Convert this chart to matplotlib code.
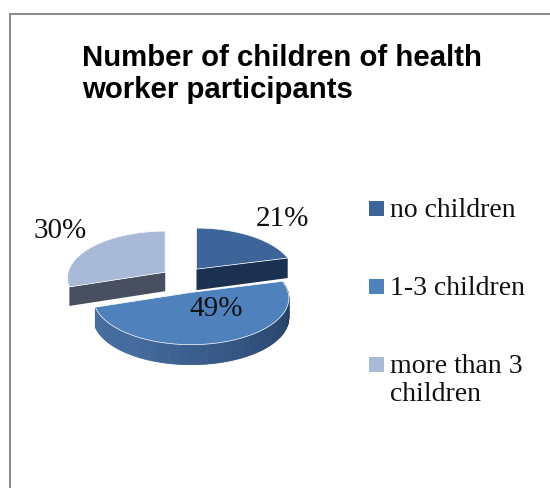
import numpy as np
import matplotlib
matplotlib.use('AGG')
import matplotlib.pyplot as plt

labels = ['no children', '1-3 children', 'more than 3\nchildren']
values = [21, 49, 30]
pct_labels = ['21%', '49%', '30%']
title = 'Number of children of health\nworker participants'

top_colors = ['#3d659a', '#4f81bd', '#a9b9d8']
cut_colors = ['#1b3152', '#24426c', '#474f60']
rim_light = np.array([0.27, 0.42, 0.62])
rim_dark = np.array([0.11, 0.21, 0.35])

# pie geometry in pixels
cx, cy = 183, 282
rx, ry = 97, 46
persp = 0.12
explode_x, explode_y = 22, 15
nudge_x = [0, 2, 0]
nudge_y = [0, -3, 0]
depth = 20
serif = 'Liberation Serif'


def project(ang):
    # angle is clockwise from 12 o'clock
    xx = np.sin(ang)
    yy = np.cos(ang)
    k = 1 + persp * yy
    return xx * rx / k, -yy * ry / k


fig = plt.figure(figsize=(5.5, 4.89), dpi=100)
ax = fig.add_axes([0, 0, 1, 1])
ax.set_xlim(0, 550)
ax.set_ylim(489, 0)
ax.axis('off')

# frame of the chart, runs off the picture on the right and at the bottom
ax.plot([10, 10], [489, 15], color='#8c8c8c', lw=1.5, solid_capstyle='butt')
ax.plot([9, 550], [15, 15], color='#8c8c8c', lw=1.5, solid_capstyle='butt')

ax.text(82, 74, title, fontsize=21.2, fontweight='bold', family='Liberation Sans',
        va='center', ha='left', linespacing=1.17, color='black')

edges = np.cumsum([0] + values) / sum(values) * 2 * np.pi
slices = []
for i in range(len(values)):
    a0, a1 = edges[i], edges[i + 1]
    mid = (a0 + a1) / 2
    ox = cx + explode_x * np.sin(mid) + nudge_x[i]
    oy = cy - explode_y * np.cos(mid) + nudge_y[i]
    slices.append((i, a0, a1, ox, oy))

# big slice goes first, the two others sit on top of it
for i, a0, a1, ox, oy in [slices[1], slices[0], slices[2]]:
    angs = np.linspace(a0, a1, 80)
    px, py = project(angs)
    px = px + ox
    py = py + oy
    if i == 1:
        # rim gets darker towards the right
        for j in range(len(angs) - 1):
            t = np.clip((angs[j] - a0) / (np.pi * 0.75), 0, 1)
            col = rim_dark + (rim_light - rim_dark) * t
            ax.fill([px[j], px[j + 1], px[j + 1], px[j]],
                    [py[j], py[j + 1], py[j + 1] + depth, py[j] + depth],
                    color=col, lw=0.6, zorder=2)
    # flat cut face for the back slices
    if i == 0:
        ax.fill([ox, px[-1], px[-1], ox], [oy, py[-1], py[-1] + depth, oy + depth + 1],
                color=cut_colors[i], lw=0, zorder=2)
    if i == 2:
        ax.fill([ox, px[0], px[0], ox], [oy, py[0], py[0] + depth - 1, oy + depth - 1],
                color=cut_colors[i], lw=0, zorder=2)
    ax.fill(np.r_[ox, px], np.r_[oy, py], color=top_colors[i], ec='white', lw=0.5, zorder=2)

# percent labels
pct_pos = [(282, 219), (216, 309), (60, 231)]
for txt, (tx, ty) in zip(pct_labels, pct_pos):
    ax.text(tx, ty, txt, fontsize=21, family=serif, ha='center', va='center',
            color='#111111', zorder=5)

# legend
legend_y = [209, 287, 365]
for lab, col, ly in zip(labels, top_colors, legend_y):
    ax.fill([369, 384, 384, 369], [ly - 7.5, ly - 7.5, ly + 7.5, ly + 7.5], color=col, lw=0)
    ax.text(390, ly - 11, lab, fontsize=20, family=serif, ha='left', va='top',
            linespacing=1.15, color='#111111')

fig.savefig('out.png', dpi=100)
